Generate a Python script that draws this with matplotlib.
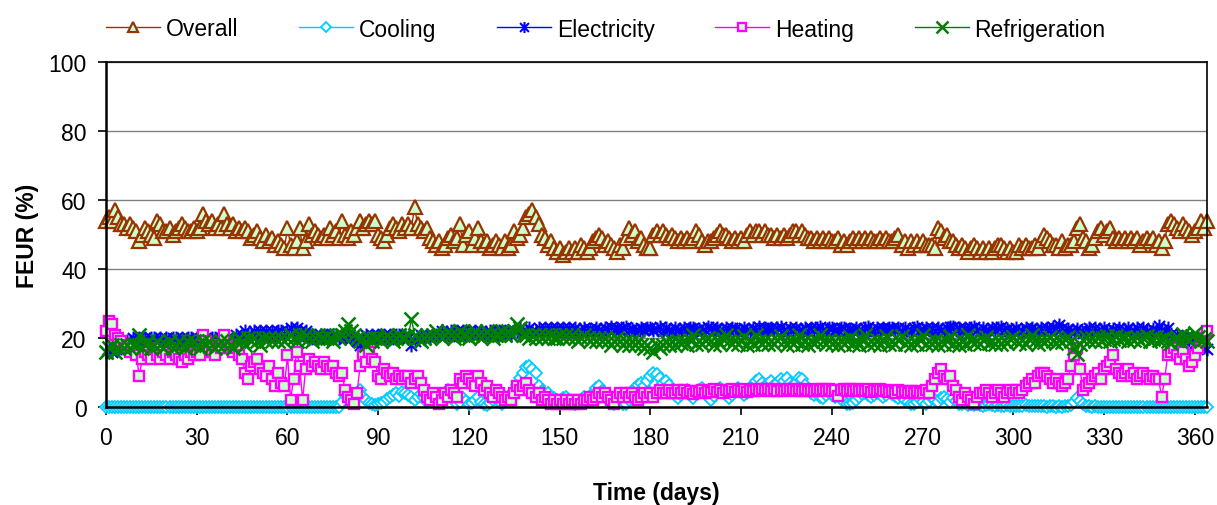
import numpy as np
import matplotlib
matplotlib.use("Agg")
import matplotlib.pyplot as plt
from matplotlib.path import Path

plt.rcParams['font.family'] = ['Liberation Sans', 'DejaVu Sans']

# daily FEUR values (%)
overall = [
    54, 55, 54, 57, 55, 53, 53, 52, 53, 52,
    51, 48, 50, 52, 51, 50, 49, 54, 53, 51,
    51, 52, 50, 51, 52, 53, 52, 51, 51, 52,
    51, 52, 56, 54, 53, 54, 52, 53, 52, 56,
    53, 52, 53, 51, 52, 51, 52, 51, 49, 50,
    51, 49, 48, 50, 48, 49, 47, 48, 47, 46,
    52, 47, 46, 48, 52, 46, 48, 53, 50, 51,
    50, 49, 50, 49, 52, 50, 51, 49, 54, 50,
    49, 51, 50, 52, 54, 52, 53, 54, 53, 54,
    50, 49, 48, 50, 52, 53, 52, 51, 53, 52,
    53, 52, 58, 53, 52, 51, 52, 49, 48, 47,
    48, 46, 47, 49, 50, 48, 49, 53, 47, 50,
    51, 47, 49, 52, 48, 47, 48, 46, 47, 48,
    47, 46, 48, 46, 47, 51, 49, 50, 52, 55,
    56, 57, 55, 53, 50, 49, 47, 48, 46, 45,
    46, 44, 45, 46, 45, 46, 45, 47, 46, 45,
    46, 48, 49, 50, 49, 47, 48, 47, 46, 45,
    47, 46, 49, 52, 50, 51, 48, 49, 47, 46,
    46, 50, 51, 50, 51, 50, 49, 50, 49, 48,
    49, 48, 49, 48, 49, 51, 50, 48, 47, 48,
    48, 49, 50, 51, 50, 50, 49, 48, 49, 48,
    49, 48, 50, 51, 50, 51, 51, 50, 51, 50,
    50, 49, 50, 49, 50, 49, 50, 51, 51, 50,
    51, 50, 49, 49, 48, 49, 48, 49, 48, 49,
    48, 48, 49, 47, 48, 47, 48, 49, 48, 49,
    48, 49, 48, 49, 48, 48, 49, 48, 49, 48,
    48, 49, 50, 47, 48, 46, 48, 47, 48, 47,
    48, 47, 47, 47, 46, 52, 51, 49, 50, 48,
    48, 47, 46, 47, 46, 45, 46, 47, 46, 45,
    46, 45, 46, 45, 46, 47, 47, 46, 45, 46,
    45, 45, 47, 46, 47, 46, 46, 47, 46, 48,
    50, 49, 48, 47, 47, 46, 48, 46, 47, 47,
    48, 52, 53, 49, 48, 46, 47, 49, 51, 52,
    50, 51, 52, 49, 48, 49, 48, 49, 48, 49,
    48, 49, 47, 48, 49, 48, 49, 47, 48, 46,
    48, 53, 54, 53, 52, 51, 53, 52, 51, 50,
    51, 52, 54, 52, 54,
]

cooling = [
    0, 0, 0, 0, 0, 0, 0, 0, 0, 0,
    0, 0, 0, 0, 0, 0, 0, 0, 0, 0,
    0, 0, 0, 0, 0, 0, 0, 0, 0, 0,
    0, 0, 0, 0, 0, 0, 0, 0, 0, 0,
    0, 0, 0, 0, 0, 0, 0, 0, 0, 0,
    0, 0, 0, 0, 0, 0, 0, 0, 0, 0,
    0, 0, 0, 0, 0, 0, 0, 0, 0, 0,
    0, 0, 0, 0, 0, 0, 0, 0, 1.5, 3.5,
    4.2, 3.8, 3.5, 4.0, 4.8, 3.0, 2.0, 1.2, 0.8, 0.5,
    0.8, 1.2, 1.5, 2.3, 3.0, 3.5, 4.0, 3.2, 4.3, 4.0,
    3.5, 2.8, 2.0, 3.0, 3.8, 2.5, 1.5, 2.2, 3.0, 1.8,
    2.5, 3.5, 4.2, 5.0, 3.0, 2.0, 1.0, 1.5, 2.5, 1.8,
    0.8, 1.2, 2.0, 2.8, 1.5, 1.0, 0.6, 1.2, 2.0, 2.5,
    1.5, 1.0, 2.0, 2.8, 3.5, 4.5, 6.5, 8.5, 10.0, 11.5,
    12.0, 11.0, 10.0, 6.0, 4.5, 3.5, 4.0, 3.0, 2.5, 2.0,
    1.5, 2.5, 3.0, 2.0, 1.2, 0.8, 1.5, 2.0, 2.8, 1.8,
    2.5, 4.0, 5.5, 6.0, 4.5, 3.5, 2.0, 1.5, 1.0, 1.8,
    2.5, 1.0, 0.8, 2.0, 4.0, 5.5, 6.5, 7.0, 6.0, 7.5,
    9.0, 10.0, 9.5, 8.5, 7.0, 7.5, 6.5, 5.0, 3.5, 2.5,
    3.5, 4.5, 5.0, 3.5, 2.5, 3.8, 4.8, 5.5, 4.0, 3.0,
    2.0, 3.2, 4.5, 5.5, 4.5, 3.5, 2.5, 3.5, 4.5, 5.5,
    4.8, 3.5, 4.2, 5.5, 6.5, 7.5, 8.0, 7.0, 6.0, 6.8,
    7.5, 6.5, 7.0, 8.0, 7.5, 8.5, 7.0, 6.5, 7.0, 8.5,
    8.0, 6.5, 5.0, 4.0, 3.5, 4.5, 3.0, 2.5, 3.5, 4.5,
    3.5, 2.8, 3.8, 2.5, 1.5, 1.0, 0.8, 1.2, 2.0, 3.0,
    3.8, 4.2, 3.5, 2.8, 3.5, 4.2, 3.8, 3.0, 3.5, 4.5,
    3.8, 3.2, 2.5, 3.0, 2.0, 1.5, 1.0, 0.8, 1.5, 2.2,
    1.5, 1.0, 1.8, 2.5, 2.0, 1.5, 2.5, 3.0, 2.2, 1.5,
    2.5, 1.8, 1.0, 0.8, 1.2, 0.6, 0.8, 0.5, 1.0, 0.6,
    0.4, 0.6, 0.8, 0.5, 0.3, 0.6, 0.4, 0.3, 0.5, 0.2,
    0.3, 0.4, 0.2, 0.3, 0.5, 0.3, 0.2, 0.4, 0.2, 0.3,
    0.2, 0.1, 0.3, 0.2, 0.1, 0.2, 0.1, 0.2, 0.3, 0.6,
    1.5, 2.5, 1.8, 0.8, 0.4, 0.2, 0.1, 0.2, 0.1, 0.0,
    0.1, 0.0, 0.1, 0.0, 0.0, 0.1, 0.0, 0.0, 0.1, 0.0,
    0.0, 0.1, 0.0, 0.0, 0.1, 0.0, 0.0, 0.1, 0.0, 0.0,
    0.1, 0.0, 0.0, 0.1, 0.0, 0.0, 0.1, 0.0, 0.0, 0.0,
    0.0, 0.1, 0.0, 0.0, 0.0,
]

electricity = [
    16, 17, 16, 17, 18, 17, 18, 19, 19, 20,
    19, 20, 19, 20, 19, 20, 20, 19, 20, 19,
    20, 19, 20, 20, 19, 20, 19, 20, 20, 19,
    20, 19, 20, 20, 19, 20, 20, 19, 20, 19,
    20, 19, 20, 21, 20, 21, 22, 21, 21, 22,
    21, 22, 21, 22, 21, 22, 21, 22, 22, 21,
    22, 23, 22, 23, 22, 21, 22, 21, 20, 21,
    20, 21, 20, 21, 20, 21, 21, 20, 21, 20,
    21, 20, 21, 19, 18, 20, 21, 20, 21, 20,
    21, 20, 21, 20, 21, 20, 21, 21, 20, 21,
    20, 18, 19, 20, 21, 20, 21, 20, 21, 21,
    21, 22, 21, 21, 22, 21, 22, 21, 22, 21,
    22, 21, 22, 21, 22, 21, 21, 22, 21, 22,
    22, 21, 22, 22, 21, 22, 22, 23, 22, 22,
    23, 22, 22, 23, 22, 23, 22, 23, 22, 23,
    22, 23, 22, 23, 22, 23, 22, 22, 23, 22,
    22.6, 22.1, 23.0, 22.3, 22.0, 22.9, 22.4, 23.1, 22.2, 22.8,
    22.3, 22.9, 23.1, 22.2, 22.7, 22.0, 22.4, 23.0, 22.3, 22.8,
    23.0, 22.2, 22.5, 23.1, 22.1, 22.8, 22.3, 22.0, 22.9, 22.4,
    22.1, 22.8, 22.3, 23.0, 22.9, 22.2, 22.7, 22.0, 22.4, 23.1,
    22.8, 22.2, 22.9, 22.3, 22.0, 22.8, 22.4, 23.0, 22.7, 22.1,
    22.4, 23.0, 22.2, 22.1, 22.8, 22.3, 23.1, 22.2, 22.9, 22.5,
    23.0, 22.2, 22.8, 23.1, 22.3, 22.0, 22.9, 22.4, 22.8, 22.1,
    22.3, 22.9, 22.1, 23.0, 22.4, 22.8, 23.1, 22.2, 22.0, 22.9,
    22.8, 22.2, 22.4, 23.0, 22.9, 22.1, 22.7, 22.3, 23.0, 22.2,
    22.1, 22.9, 23.1, 22.3, 22.0, 22.8, 22.2, 23.0, 22.4, 22.9,
    23.0, 22.3, 22.8, 22.1, 22.9, 22.2, 22.0, 22.8, 23.1, 22.3,
    22.2, 22.9, 22.3, 23.0, 22.1, 22.8, 22.4, 22.0, 22.9, 23.1,
    23.2, 22.4, 22.9, 22.1, 23.0, 22.3, 22.8, 23.1, 22.2, 22.0,
    22.9, 22.2, 22.0, 23.0, 22.3, 22.8, 23.1, 22.2, 22.7, 22.1,
    22.3, 22.9, 22.1, 22.0, 22.8, 22.2, 23.0, 22.3, 22.0, 22.8,
    22.1, 22.8, 22.3, 23.2, 22.5, 23.8, 22.9, 22.0, 22.7, 22.1,
    21.8, 22.6, 22.0, 21.5, 22.2, 23.0, 22.1, 22.8, 21.9, 22.3,
    22.9, 22.0, 21.8, 22.7, 22.1, 22.8, 21.9, 22.2, 22.9, 22.0,
    21.9, 22.8, 22.1, 22.9, 22.0, 21.8, 22.7, 22.1, 23.6, 22.2,
    22.0, 23.0, 21.2, 20.3, 21.0, 20.1, 19.4, 20.2, 19.3, 20.4,
    18.5, 19.6, 18.2, 17.3, 16.8,
]

heating = [
    22, 25, 24, 21, 20, 19, 17, 18, 16, 17,
    15, 9, 14, 16, 15, 14, 17, 15, 14, 16,
    15, 14, 16, 15, 14, 13, 15, 14, 16, 15,
    16, 15, 21, 19, 17, 16, 15, 18, 17, 21,
    18, 17, 16, 17, 15, 14, 10, 8, 12, 13,
    14, 11, 10, 9, 12, 8, 6, 10, 7, 6,
    15, 2, 8, 16, 12, 2, 11, 14, 12, 13,
    12, 11, 13, 12, 11, 12, 10, 9, 10, 5,
    3, 2, 1, 4, 12, 15, 13, 16, 14, 13,
    9, 8, 11, 10, 9, 10, 8, 9, 8, 9,
    9, 7, 8, 9, 7, 5, 3, 2, 4, 3,
    1, 2, 4, 3, 5, 4, 3, 8, 7, 9,
    8, 7, 6, 9, 7, 5, 6, 4, 3, 5,
    4, 3, 2, 3, 2, 4, 6, 5, 6, 7,
    5, 4, 3, 4, 2, 3, 2, 1, 2, 1,
    2, 1, 2, 1, 2, 1, 2, 1, 2, 2,
    3, 2, 3, 4, 3, 4, 3, 2, 1, 3,
    4, 3, 4, 3, 4, 3, 2, 3, 4, 3,
    4, 3, 4, 5, 4, 4, 5, 4, 4, 5,
    4.2, 4.8, 4.0, 4.6, 3.9, 4.7, 4.3, 5.0, 4.1, 4.6,
    4.4, 5.1, 4.3, 4.9, 4.2, 5.0, 4.5, 5.2, 4.4, 4.8,
    4.6, 5.2, 4.4, 5.0, 4.7, 5.3, 4.5, 5.1, 4.8, 5.2,
    4.6, 5.3, 4.7, 5.0, 4.5, 5.2, 4.8, 5.3, 4.6, 5.1,
    4.7, 5.2, 4.5, 5.0, 4.6, 5.3, 4.8, 5.1, 4.5, 5.2,
    4.6, 5.0, 3.2, 4.8, 5.3, 4.6, 5.1, 4.7, 5.2, 4.5,
    5.0, 4.6, 5.2, 4.4, 4.9, 4.5, 5.1, 4.6, 4.8, 4.3,
    4.7, 4.2, 4.8, 4.3, 4.6, 4.0, 4.5, 4.1, 4.6, 4.2,
    4, 5, 4, 6, 8, 10, 11, 9, 8, 9,
    6, 5, 3, 2, 4, 3, 2, 1, 3, 4,
    4, 5, 4, 3, 4, 5, 4, 3, 4, 5,
    4, 5, 4, 5, 6, 7, 8, 7, 9, 10,
    10, 9, 8, 7, 8, 7, 6, 7, 8, 12,
    15, 17, 11, 5, 6, 7, 8, 9, 10, 8,
    11, 12, 13, 15, 11, 10, 9, 10, 11, 9,
    10, 8, 9, 10, 9, 8, 9, 8, 8, 3,
    8, 15, 16, 17, 15, 14, 16, 14, 12, 13,
    15, 17, 19, 20, 22,
]

refrigeration = [
    16, 17, 18, 16, 17, 18, 17, 18, 17, 18,
    18, 21, 17, 18, 19, 17, 18, 19, 18, 17,
    18, 19, 17, 18, 19, 18, 17, 19, 18, 19,
    18, 17, 19, 18, 19, 18, 17, 18, 19, 18,
    19, 18, 17, 19, 20, 19, 18, 20, 19, 20,
    19, 18, 20, 19, 20, 19, 20, 19, 20, 19,
    20, 21, 20, 19, 21, 20, 21, 20, 19, 20,
    21, 20, 20, 21, 20, 19, 21, 20, 21, 22,
    24, 22, 21, 20, 19, 20, 18, 20, 19, 20,
    20, 19, 20, 21, 20, 19, 20, 21, 20, 20,
    21, 25.5, 21, 20, 19, 20, 21, 20, 21, 22,
    21, 20, 21, 22, 21, 20, 21, 22, 21, 21,
    20, 21, 22, 21, 20, 21, 22, 21, 20, 21,
    21, 22, 21, 22, 21, 22, 24, 23, 21, 21,
    20, 21, 20, 21, 20, 21, 20, 21, 20, 20,
    21, 20, 21, 20, 21, 20, 19, 20, 21, 20,
    19, 20, 19, 20, 19, 20, 19, 18, 19, 20,
    19, 18, 19, 18, 19, 18, 19, 18, 17, 18,
    17, 16, 18, 17, 18, 19, 18, 19, 18, 19,
    18.5, 19.2, 18.0, 19.5, 20.8, 18.3, 19.0, 18.2, 19.4, 20.1,
    19.0, 18.1, 19.3, 18.4, 19.6, 20.9, 19.1, 18.2, 19.5, 18.3,
    19.2, 20.7, 18.1, 19.4, 18.3, 20.9, 19.0, 18.2, 19.3, 18.4,
    19.1, 18.2, 19.5, 20.6, 19.0, 18.1, 19.3, 18.4, 19.2, 20.8,
    18.3, 19.4, 18.1, 19.2, 18.5, 19.0, 20.9, 19.1, 18.2, 19.4,
    18.3, 19.2, 18.0, 19.5, 18.4, 19.1, 20.2, 18.3, 19.4, 18.1,
    19.3, 20.8, 18.2, 19.0, 18.4, 19.3, 18.1, 19.2, 20.7, 18.3,
    19.1, 18.2, 19.4, 20.6, 18.3, 19.0, 18.1, 19.2, 18.4, 19.5,
    20.8, 18.2, 19.1, 18.3, 19.4, 18.0, 19.2, 18.4, 19.1, 20.5,
    18.4, 19.2, 18.1, 19.5, 18.3, 20.9, 19.2, 18.5, 19.0, 18.2,
    19.4, 20.3, 18.6, 19.1, 18.4, 19.5, 18.2, 19.3, 18.5, 19.7,
    20.4, 19.0, 18.5, 19.4, 18.2, 19.6, 20.9, 19.0, 18.4, 19.5,
    18.7, 19.5, 20.2, 19.0, 18.6, 19.4, 18.8, 19.8, 20.4, 19.1,
    17.0, 15.5, 18.2, 19.4, 20.3, 19.1, 20.0, 19.2, 20.4, 19.0,
    19.6, 20.5, 19.2, 19.8, 20.6, 19.3, 19.9, 20.4, 19.1, 20.0,
    19.5, 20.3, 19.2, 19.9, 20.5, 19.0, 19.7, 20.2, 19.4, 19.8,
    20.1, 19.0, 18.5, 19.6, 20.2, 19.0, 21.3, 20.0, 19.4, 20.5,
    21.5, 20.3, 19.0, 19.8, 19.2,
]

days = np.arange(len(overall))

# Excel-like asterisk marker: vertical bar plus an x
star = Path([(0, -1), (0, 1), (-0.8, -0.8), (0.8, 0.8), (-0.8, 0.8), (0.8, -0.8)],
            [Path.MOVETO, Path.LINETO, Path.MOVETO, Path.LINETO, Path.MOVETO, Path.LINETO])

fig = plt.figure(figsize=(12.17, 5.06), dpi=100)
ax = fig.add_axes([106 / 1217, 98 / 506, 1101 / 1217, 345 / 506])

lw = 1.0
ax.plot(days, overall, color='#993300', lw=lw, marker='^', ms=9.5, mfc='#CCFFCC',
        mec='#993300', mew=1.6, label='Overall', clip_on=False)
ax.plot(days, cooling, color='#00CCFF', lw=lw, marker='D', ms=6, mfc='white',
        mec='#00CCFF', mew=1.3, label='Cooling', clip_on=False)
ax.plot(days, electricity, color='#0000FF', lw=lw, marker=star, ms=10,
        mec='#0000FF', mew=1.5, label='Electricity', clip_on=False)
ax.plot(days, heating, color='#FF00FF', lw=lw, marker='s', ms=7.5, mfc='#CCFFCC',
        mec='#FF00FF', mew=1.7, label='Heating', clip_on=False)
ax.plot(days, refrigeration, color='#008000', lw=lw, marker='x', ms=10.5,
        mec='#008000', mew=1.8, label='Refrigeration', clip_on=False)

ax.set_xlim(0, 364)
ax.set_ylim(0, 100)
ax.set_xticks(np.arange(0, 361, 30))
ax.set_yticks(np.arange(0, 101, 20))
ax.yaxis.grid(True, color='#808080', lw=1)
ax.set_axisbelow(True)
for side in ['left', 'bottom']:
    ax.spines[side].set_linewidth(1.8)
for side in ['top', 'right']:
    ax.spines[side].set_linewidth(1.2)
ax.tick_params(axis='both', direction='out', length=6, width=1.2,
               labelsize=16.5, pad=8)

ax.set_xlabel('Time (days)', fontsize=16.5, fontweight='bold', labelpad=23)
ax.set_ylabel('FEUR (%)', fontsize=16.5, fontweight='bold', labelpad=7)

leg = fig.legend(loc='center left', bbox_to_anchor=(106 / 1217, 1 - 30 / 506), ncol=5,
                 frameon=False, fontsize=16.5, handlelength=2.35, handletextpad=0.26,
                 columnspacing=2.65, borderpad=0, borderaxespad=0, markerscale=0.8)

fig.savefig('out.png', dpi=100)
